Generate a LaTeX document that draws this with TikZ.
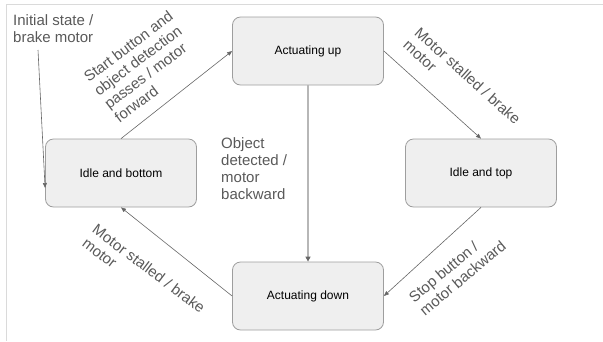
\documentclass[tikz,border=0pt]{standalone}
\usepackage{fontspec}
\setmainfont{Liberation Sans}
\usepackage{xcolor}
\usetikzlibrary{arrows.meta}

\definecolor{boxfill}{HTML}{EFEFEF}
\definecolor{boxline}{HTML}{9E9E9E}
\definecolor{labeltext}{HTML}{595959}
\definecolor{edgeline}{HTML}{666666}
\definecolor{downline}{HTML}{B7B7B7}
\definecolor{frameline}{HTML}{DADADA}

\begin{document}
\begin{tikzpicture}[x=1pt, y=-1pt,
  stbox/.style={draw=boxline, fill=boxfill, rounded corners=8pt, line width=0.8pt,
    minimum width=151pt, minimum height=68pt, font=\fontsize{12}{14}\selectfont},
  trans/.style={text=labeltext, font=\fontsize{15}{17}\selectfont, align=left,
    inner sep=0pt, anchor=north west},
  move/.style={draw=edgeline, line width=0.6pt, -{Triangle[length=5pt,width=4pt]}}]
  \useasboundingbox (0,0) rectangle (603,341);

  % Frame of the page
  \draw[frameline, line width=1pt] (603,4) -- (6,4) -- (6,341);

  % The four states
  \node[stbox] (up) at (308,51) {Actuating up};
  \node[stbox] (bottom) at (121,173) {Idle and bottom};
  \node[stbox] (top) at (481,173) {Idle and top};
  \node[stbox] (down) at (308,296) {Actuating down};

  % Transitions
  \coordinate (init) at (38,50);
  \draw[move] (init) -- ([yshift=-15pt]bottom.west);
  \draw[move] (bottom.north) -- (up.west);
  \draw[move] (up.east) -- (top.north);
  \draw[move] (top.south) -- (down.east);
  \draw[move] (down.west) -- (bottom.south);
  \draw[downline, line width=2pt, -{Triangle[length=5pt,width=5pt,color=edgeline]}] (up.south) -- (down.north);

  % Labels
  \node[trans] (initlbl) at (13,14.5) {Initial state /\\brake motor};
  \node[trans, rotate=37] (startlbl) at (82,74) {Start button and\\object detection\\passes / motor\\forward};
  \node[trans, rotate=-42] (stalltop) at (421,26) {Motor stalled / brake\\motor};
  \node[trans, rotate=40] (stoplbl) at (407,295) {Stop button /\\motor backward};
  \node[trans, rotate=-37] (stallbot) at (98,223) {Motor stalled / brake\\motor};
  \node[trans] (objlbl) at (221,137) {Object\\detected /\\motor\\backward};
\end{tikzpicture}
\end{document}
